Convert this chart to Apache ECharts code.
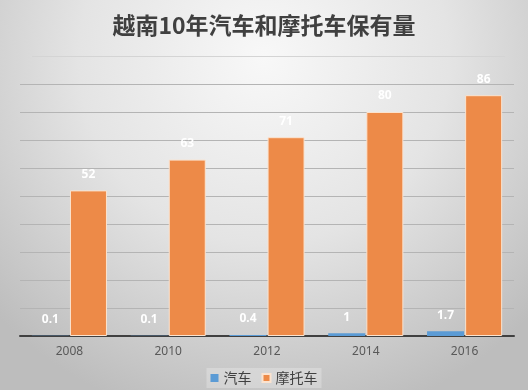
<!DOCTYPE html>
<html><head><meta charset="utf-8">
<script src="https://cdn.jsdelivr.net/npm/echarts@6/dist/echarts.min.js"></script>
<style>html,body{margin:0;padding:0;}#c{width:528px;height:390px;}</style>
</head><body><div id="c"></div>
<script>
var years = ['2008','2010','2012','2014','2016'];
var cars = [0.1, 0.1, 0.4, 1, 1.7];
var motorbikes = [52, 63, 71, 80, 86];
var seriesNames = ['汽车','摩托车'];
var titleText = '越南10年汽车和摩托车保有量';

var chart = echarts.init(document.getElementById('c'));
var labelStyle = {show:true, position:'top', distance:10, color:'#ffffff', fontSize:12, fontWeight:'bold', fontFamily:'"Noto Sans", sans-serif'};
chart.setOption({
  backgroundColor: {type:'radial', x:0.5, y:0.15, r:0.95, colorStops:[{offset:0,color:'#f8f8f8'},{offset:0.5,color:'#e4e4e4'},{offset:1,color:'#bdbdbd'}]},
  animation:false,
  title:{text:titleText, left:'center', top:9, textStyle:{fontSize:23, fontWeight:'bold', color:'#404040', fontFamily:'"Noto Sans CJK SC", sans-serif'}},
  graphic:[{type:'line', shape:{x1:32,y1:56.5,x2:505,y2:56.5}, style:{stroke:'#d4d4d4', lineWidth:1}}],
  legend:{data:seriesNames, bottom:2, left:'center', icon:'rect', itemWidth:8, itemHeight:8, itemGap:10,
    backgroundColor:'rgba(255,255,255,0.25)', padding:[3,4],
    textStyle:{fontSize:14, color:'#404040', fontFamily:'"Noto Sans CJK SC", sans-serif'}},
  grid:{left:20, right:14, top:84, bottom:54},
  xAxis:{type:'category', data:years, axisLine:{lineStyle:{color:'#404040', width:2}}, axisTick:{show:false},
    axisLabel:{color:'#595959', fontSize:12, margin:10, fontFamily:'"Noto Sans", sans-serif'}},
  yAxis:{type:'value', min:0, max:90, interval:10, axisLabel:{show:false}, axisLine:{show:false}, axisTick:{show:false},
    splitLine:{lineStyle:{color:'#b4b4b4', width:1}}},
  series:[
    {name:seriesNames[0], type:'bar', data:cars, barWidth:37, barGap:'3%', itemStyle:{color:'#5b9bd5'}, label:labelStyle},
    {name:seriesNames[1], type:'bar', data:motorbikes, barWidth:37, itemStyle:{color:'#ed8a48', borderColor:'#fbe3cf', borderWidth:1}, label:labelStyle}
  ]
});
</script></body></html>
